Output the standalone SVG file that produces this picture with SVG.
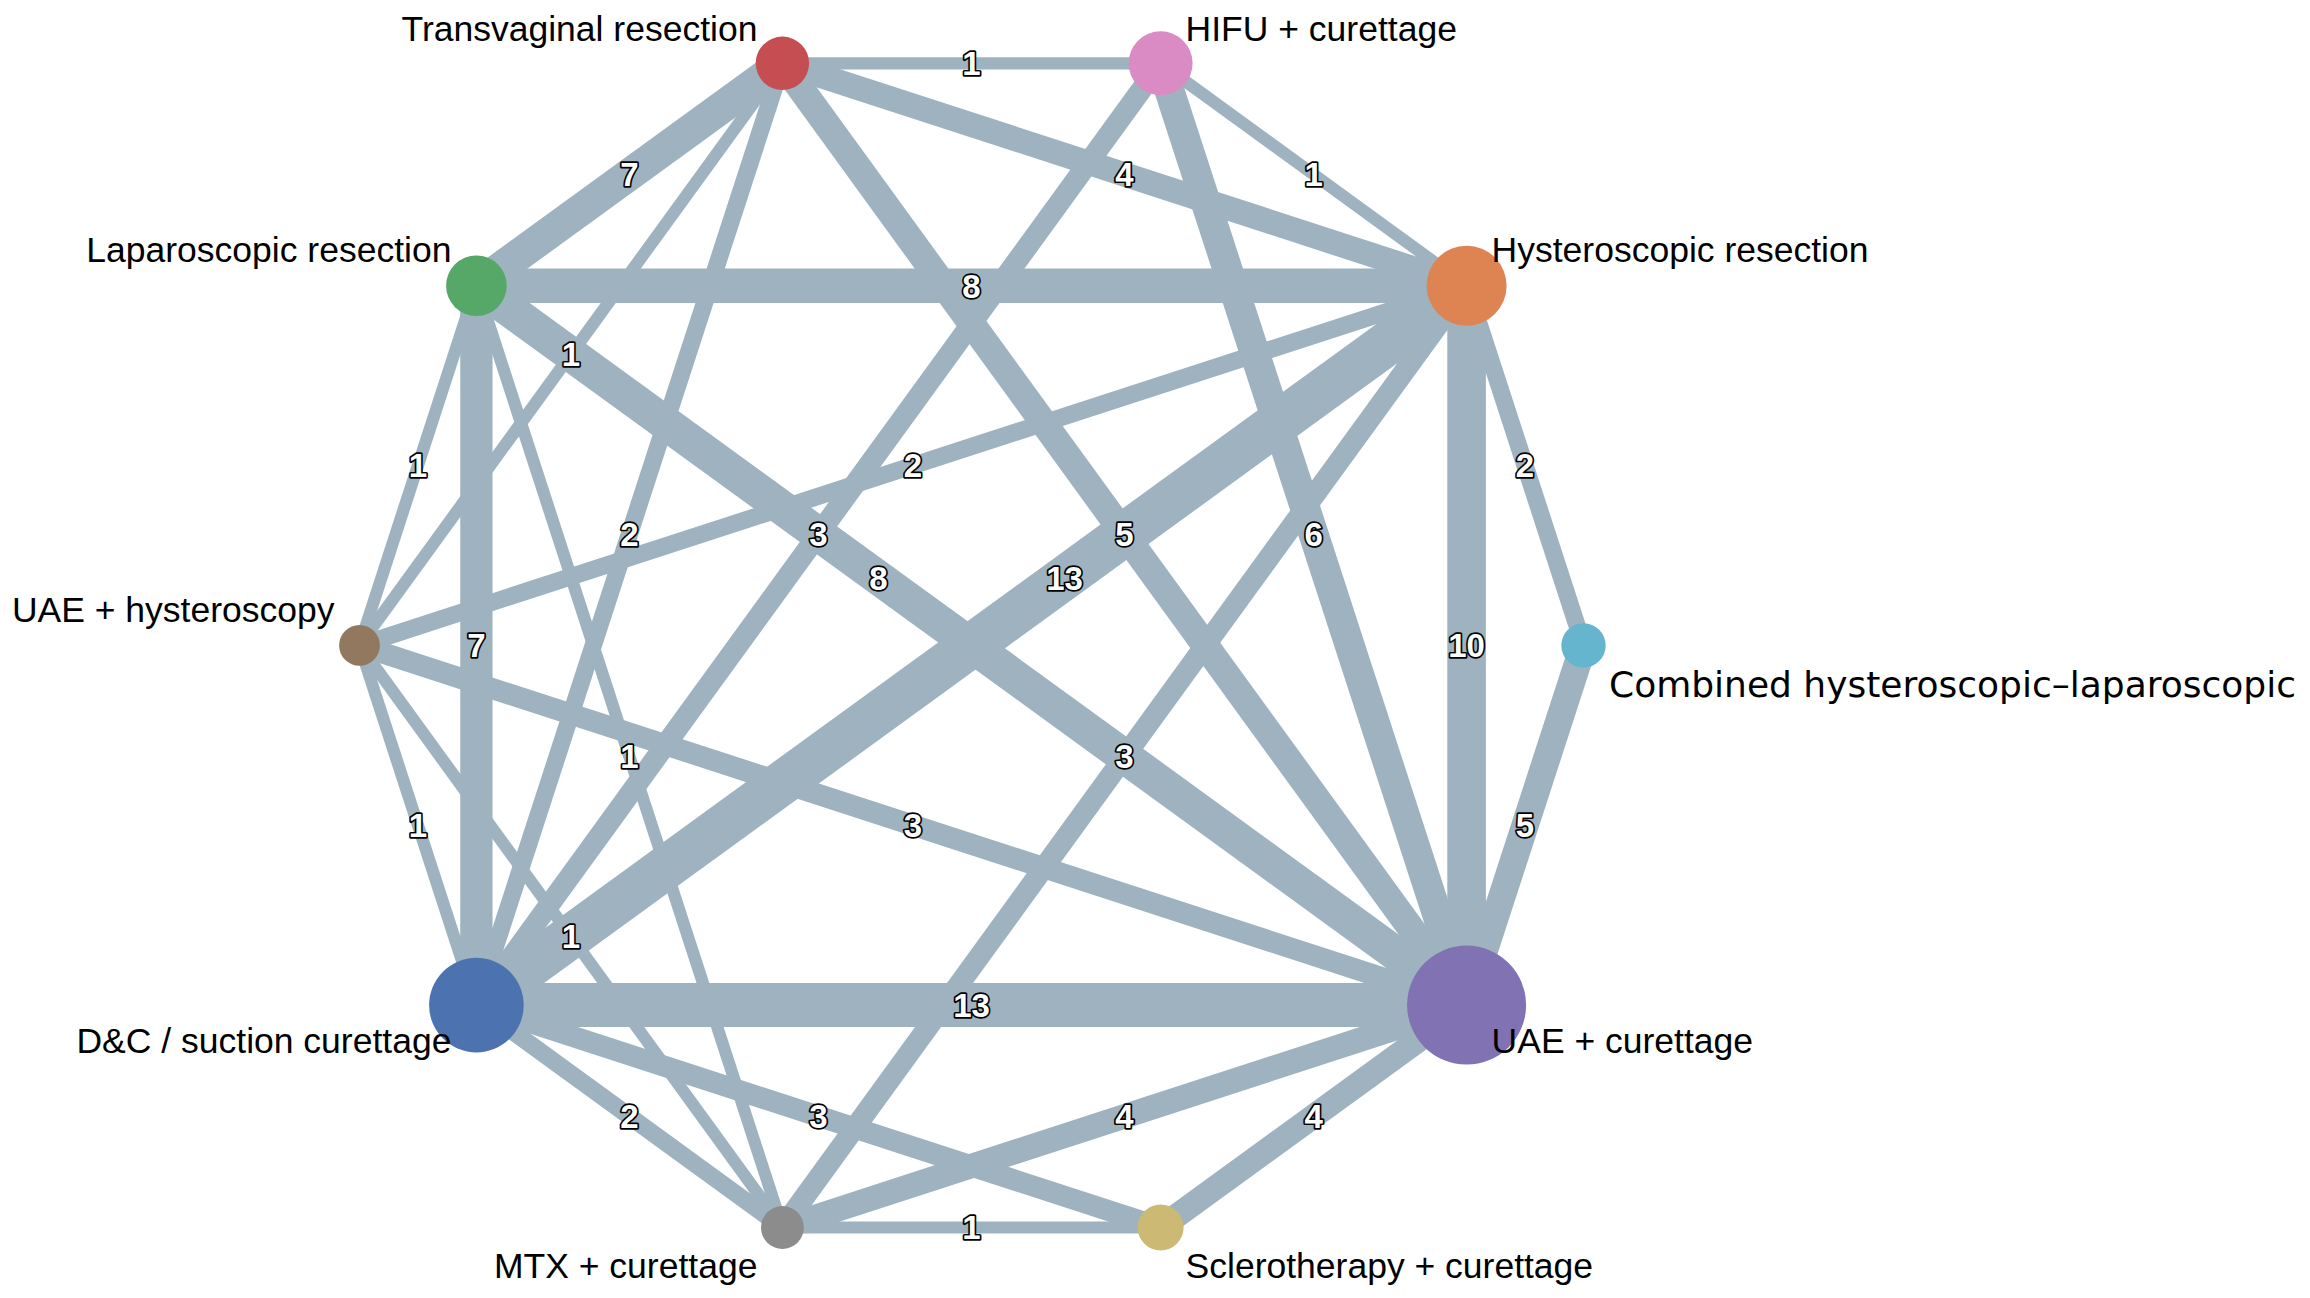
<svg xmlns="http://www.w3.org/2000/svg" width="2310" height="1298" viewBox="0 0 2310 1298">
<style>
.e{stroke:#9eb3bf;fill:none;stroke-linecap:butt}
.w1{stroke-width:12.2}.w2{stroke-width:17.3}.w3{stroke-width:21.1}.w4{stroke-width:24.4}.w5{stroke-width:27.3}.w6{stroke-width:29.9}.w7{stroke-width:32.3}.w8{stroke-width:34.5}.w10{stroke-width:38.6}.w13{stroke-width:44}
.el{font-family:"Liberation Sans",Arial,sans-serif;font-size:33px;font-weight:bold;fill:#ffffff;stroke:#000000;stroke-width:3.4;stroke-linejoin:round;paint-order:stroke fill;text-anchor:middle}
.nl{font-family:"Liberation Sans",Arial,sans-serif;font-size:35.5px;fill:#000000}
.nd{font-family:"DejaVu Sans",sans-serif;font-size:36px;fill:#000000}
.s{text-anchor:start}.en{text-anchor:end}
</style>
<rect width="2310" height="1298" fill="#ffffff"/>
<g id="connectors">
<line class="e w1" x1="782.4" y1="63.3" x2="1160.6" y2="63.3"/>
<line class="e w7" x1="782.4" y1="63.3" x2="476.4" y2="285.7"/>
<line class="e w4" x1="782.4" y1="63.3" x2="1466.6" y2="285.7"/>
<line class="e w5" x1="782.4" y1="63.3" x2="1466.6" y2="1005.1"/>
<line class="e w1" x1="782.4" y1="63.3" x2="359.5" y2="645.4"/>
<line class="e w2" x1="782.4" y1="63.3" x2="476.4" y2="1005.1"/>
<line class="e w1" x1="1160.6" y1="63.3" x2="1466.6" y2="285.7"/>
<line class="e w3" x1="1160.6" y1="63.3" x2="476.4" y2="1005.1"/>
<line class="e w6" x1="1160.6" y1="63.3" x2="1466.6" y2="1005.1"/>
<line class="e w8" x1="476.4" y1="285.7" x2="1466.6" y2="285.7"/>
<line class="e w1" x1="476.4" y1="285.7" x2="359.5" y2="645.4"/>
<line class="e w7" x1="476.4" y1="285.7" x2="476.4" y2="1005.1"/>
<line class="e w1" x1="476.4" y1="285.7" x2="782.4" y2="1227.5"/>
<line class="e w8" x1="476.4" y1="285.7" x2="1466.6" y2="1005.1"/>
<line class="e w13" x1="1466.6" y1="285.7" x2="476.4" y2="1005.1"/>
<line class="e w2" x1="1466.6" y1="285.7" x2="359.5" y2="645.4"/>
<line class="e w2" x1="1466.6" y1="285.7" x2="1583.5" y2="645.4"/>
<line class="e w10" x1="1466.6" y1="285.7" x2="1466.6" y2="1005.1"/>
<line class="e w3" x1="1466.6" y1="285.7" x2="782.4" y2="1227.5"/>
<line class="e w5" x1="1583.5" y1="645.4" x2="1466.6" y2="1005.1"/>
<line class="e w1" x1="359.5" y1="645.4" x2="476.4" y2="1005.1"/>
<line class="e w3" x1="359.5" y1="645.4" x2="1466.6" y2="1005.1"/>
<line class="e w1" x1="359.5" y1="645.4" x2="782.4" y2="1227.5"/>
<line class="e w13" x1="476.4" y1="1005.1" x2="1466.6" y2="1005.1"/>
<line class="e w2" x1="476.4" y1="1005.1" x2="782.4" y2="1227.5"/>
<line class="e w3" x1="476.4" y1="1005.1" x2="1160.6" y2="1227.5"/>
<line class="e w4" x1="782.4" y1="1227.5" x2="1466.6" y2="1005.1"/>
<line class="e w1" x1="782.4" y1="1227.5" x2="1160.6" y2="1227.5"/>
<line class="e w4" x1="1160.6" y1="1227.5" x2="1466.6" y2="1005.1"/>
</g>
<g id="edge-labels">
<text class="el" x="971.5" y="75.1">1</text>
<text class="el" x="629.4" y="186.3">7</text>
<text class="el" x="1124.5" y="186.3">4</text>
<text class="el" x="1124.5" y="546">5</text>
<text class="el" x="571" y="366.2">1</text>
<text class="el" x="629.4" y="546">2</text>
<text class="el" x="1313.6" y="186.3">1</text>
<text class="el" x="818.5" y="546">3</text>
<text class="el" x="1313.6" y="546">6</text>
<text class="el" x="971.5" y="297.5">8</text>
<text class="el" x="418" y="477.4">1</text>
<text class="el" x="476.4" y="657.2">7</text>
<text class="el" x="629.4" y="768.4">1</text>
<text class="el" x="878.4" y="589.6">8</text>
<text class="el" x="1064.6" y="589.6">13</text>
<text class="el" x="913" y="477.4">2</text>
<text class="el" x="1525" y="477.4">2</text>
<text class="el" x="1466.6" y="657.2">10</text>
<text class="el" x="1124.5" y="768.4">3</text>
<text class="el" x="1525" y="837">5</text>
<text class="el" x="418" y="837">1</text>
<text class="el" x="913" y="837">3</text>
<text class="el" x="571" y="948.2">1</text>
<text class="el" x="971.5" y="1016.9">13</text>
<text class="el" x="629.4" y="1128.1">2</text>
<text class="el" x="818.5" y="1128.1">3</text>
<text class="el" x="1124.5" y="1128.1">4</text>
<text class="el" x="971.5" y="1239.3">1</text>
<text class="el" x="1313.6" y="1128.1">4</text>
</g>
<g id="node-transvaginal"><circle cx="782.4" cy="63.3" r="26.7" fill="#c44e52"/><text class="nl en" x="757.4" y="41">Transvaginal resection</text></g>
<g id="node-hifu"><circle cx="1160.6" cy="63.3" r="32" fill="#da8bc3"/><text class="nl s" x="1185.6" y="41">HIFU + curettage</text></g>
<g id="node-hysteroscopic"><circle cx="1466.6" cy="285.7" r="40" fill="#dd8452"/><text class="nl s" x="1491.6" y="262">Hysteroscopic resection</text></g>
<g id="node-laparoscopic"><circle cx="476.4" cy="285.7" r="30.3" fill="#55a868"/><text class="nl en" x="451.4" y="262">Laparoscopic resection</text></g>
<g id="node-uae-hysteroscopy"><circle cx="359.5" cy="645.4" r="20.4" fill="#937860"/><text class="nl en" x="334.5" y="622">UAE + hysteroscopy</text></g>
<g id="node-combined"><circle cx="1583.5" cy="645.4" r="22.2" fill="#64b5cd"/><text class="nd s" x="1609" y="696.7">Combined hysteroscopic–laparoscopic</text></g>
<g id="node-dc"><circle cx="476.4" cy="1005.1" r="47.3" fill="#4c72b0"/><text class="nl en" x="451.4" y="1053">D&amp;C / suction curettage</text></g>
<g id="node-uae-curettage"><circle cx="1466.6" cy="1005.1" r="59.5" fill="#8172b3"/><text class="nl s" x="1491.6" y="1053">UAE + curettage</text></g>
<g id="node-mtx"><circle cx="782.4" cy="1227.5" r="21.4" fill="#8c8c8c"/><text class="nl en" x="757.4" y="1277.5">MTX + curettage</text></g>
<g id="node-sclerotherapy"><circle cx="1160.6" cy="1227.5" r="23" fill="#ccb974"/><text class="nl s" x="1185.6" y="1277.5">Sclerotherapy + curettage</text></g>
</svg>
